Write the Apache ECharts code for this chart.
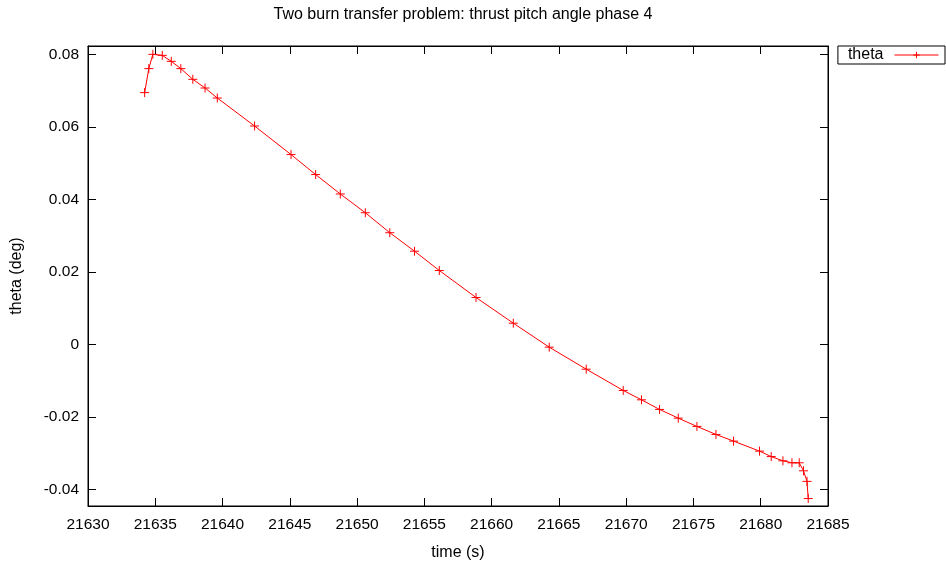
<!DOCTYPE html>
<html>
<head>
<meta charset="utf-8">
<script src="https://cdn.jsdelivr.net/npm/echarts@6/dist/echarts.min.js"></script>
<style>html,body{margin:0;padding:0;background:#fff;}#c{width:946px;height:564px;}</style>
</head>
<body>
<div id="c"></div>
<script>
const times = [21634.21, 21634.52, 21634.82, 21635.52, 21636.19, 21636.90, 21637.79, 21638.70, 21639.61,
  21642.38, 21645.09, 21646.92, 21648.75, 21650.61, 21652.43, 21654.27, 21656.11, 21658.84, 21661.61,
  21664.28, 21667.03, 21669.78, 21671.14, 21672.48, 21673.87, 21675.26, 21676.67, 21677.98, 21679.91,
  21680.78, 21681.65, 21682.32, 21682.86, 21683.18, 21683.44, 21683.53];
const theta = [0.06944, 0.07606, 0.08000, 0.07972, 0.07807, 0.07606, 0.07311, 0.07071, 0.06795,
  0.06023, 0.05235, 0.04683, 0.04148, 0.03630, 0.03079, 0.02569, 0.02036, 0.01292, 0.00583,
  -0.00078, -0.00685, -0.01272, -0.01531, -0.01796, -0.02036, -0.02265, -0.02486, -0.02670, -0.02946,
  -0.03097, -0.03213, -0.03268, -0.03268, -0.03489, -0.03781, -0.04255];
const yTicks = [-0.04, -0.02, 0, 0.02, 0.04, 0.06, 0.08];
const xMin = 21630, xMax = 21685, xStep = 5;
const yMin = -0.0446, yMax = 0.0823;

const FONT = 'Liberation Sans';
const chart = echarts.init(document.getElementById('c'), null, {renderer: 'canvas'});
const plus = 'path://M0,5L10,5M5,0L5,10';
chart.setOption({
  animation: false,
  backgroundColor: '#fff',
  title: {
    text: 'Two burn transfer problem: thrust pitch angle phase 4',
    left: 458, top: 2, textAlign: 'center',
    textStyle: {fontFamily: FONT, fontSize: 16, fontWeight: 'normal', color: '#000'}
  },
  legend: {
    data: ['theta'],
    right: 1, top: 46,
    align: 'right',
    orient: 'vertical',
    borderColor: '#000', borderWidth: 1, borderRadius: 0,
    padding: [1, 6, 1, 10],
    itemWidth: 44, itemHeight: 8, itemGap: 0,
    lineStyle: {width: 1, color: '#ff0000'},
    itemStyle: {borderWidth: 1},
    textStyle: {fontFamily: FONT, fontSize: 16, color: '#000', padding: [0, 6, 0, 0]}
  },
  grid: {left: 88, right: 118, top: 46, bottom: 58, show: true, borderColor: '#000', borderWidth: 1,
    backgroundColor: 'transparent', containLabel: false, outerBoundsMode: 'none'},
  xAxis: [{
    type: 'value', min: xMin, max: xMax, interval: xStep,
    name: 'time (s)', nameLocation: 'middle', nameGap: 39,
    nameTextStyle: {fontFamily: FONT, fontSize: 16, color: '#000'},
    axisLine: {show: true, onZero: false, lineStyle: {color: '#000', width: 1}},
    axisTick: {show: true, inside: true, length: 8, lineStyle: {color: '#000'}},
    axisLabel: {fontFamily: FONT, fontSize: 15.5, color: '#000', margin: 11, formatter: v => String(v)},
    splitLine: {show: false}
  }, {
    type: 'value', min: xMin, max: xMax, interval: xStep, position: 'top',
    axisLine: {show: true, onZero: false, lineStyle: {color: '#000', width: 1}},
    axisTick: {show: true, inside: true, length: 8, lineStyle: {color: '#000'}},
    axisLabel: {show: false}, splitLine: {show: false}
  }],
  yAxis: [{
    type: 'value', min: yMin, max: yMax,
    name: 'theta (deg)', nameLocation: 'middle', nameGap: 63, nameRotate: 90,
    nameTextStyle: {fontFamily: FONT, fontSize: 16, color: '#000'},
    axisLine: {show: true, onZero: false, lineStyle: {color: '#000', width: 1}},
    axisTick: {show: true, inside: true, length: 8, customValues: yTicks, lineStyle: {color: '#000'}},
    axisLabel: {fontFamily: FONT, fontSize: 15.5, color: '#000', margin: 9, customValues: yTicks,
      formatter: v => String(Math.round(v * 100) / 100)},
    splitLine: {show: false}
  }, {
    type: 'value', min: yMin, max: yMax, position: 'right',
    axisLine: {show: true, onZero: false, lineStyle: {color: '#000', width: 1}},
    axisTick: {show: true, inside: true, length: 8, customValues: yTicks, lineStyle: {color: '#000'}},
    axisLabel: {show: false, customValues: yTicks}, splitLine: {show: false}
  }],
  series: [{
    name: 'theta', type: 'line',
    data: times.map((t, i) => [t, theta[i]]),
    symbol: plus, symbolSize: 9, showAllSymbol: true,
    lineStyle: {color: '#ff0000', width: 1},
    itemStyle: {color: '#ff0000', borderColor: '#ff0000', borderWidth: 1},
    emphasis: {disabled: true}
  }]
});
</script>
</body>
</html>
